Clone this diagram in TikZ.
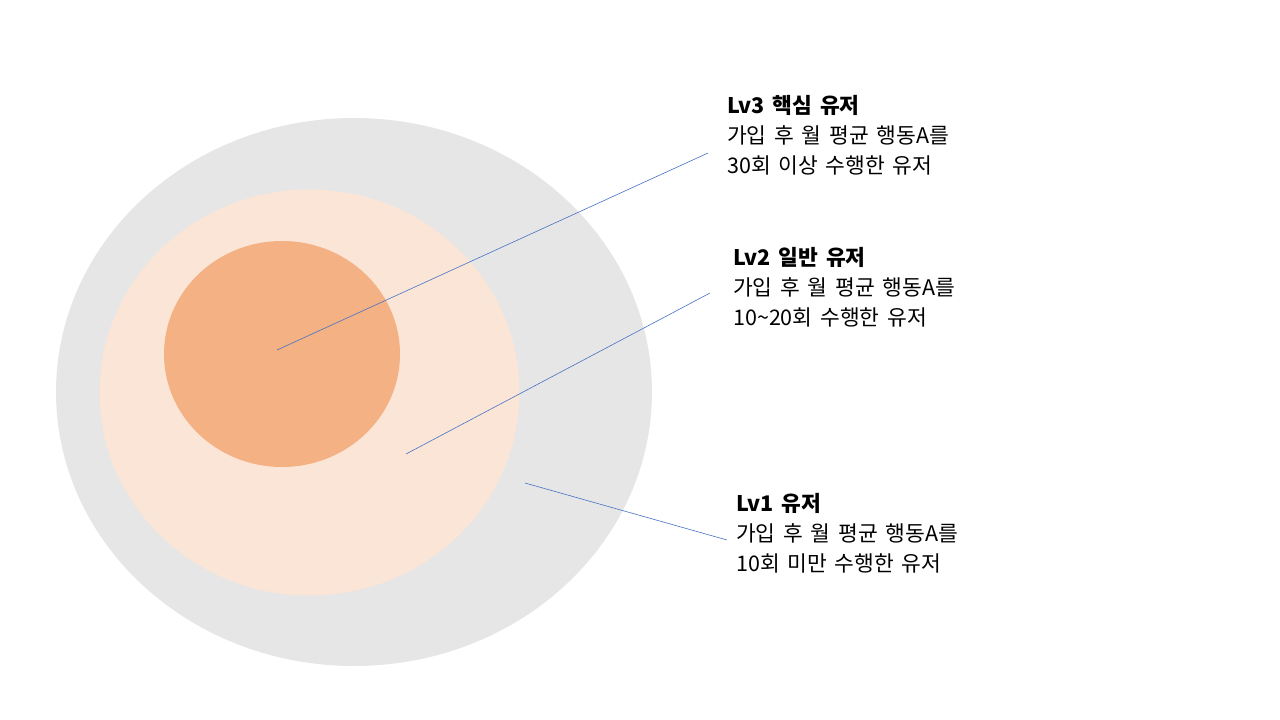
\documentclass[tikz,border=0pt]{standalone}
\usepackage{fontspec}
\setmainfont{Noto Sans CJK KR}[WordSpace=1.6]
\begin{document}
\begin{tikzpicture}[x=1pt,y=-1pt,
  lbl/.style={anchor=north west,align=left,inner sep=0pt,font=\fontsize{21.5}{30}\selectfont},
  ln/.style={draw={rgb,255:red,68;green,114;blue,196},line width=0.6pt}]
\useasboundingbox (0,0) rectangle (1280,720);
\fill[fill={rgb,255:red,231;green,230;blue,230}] (354,392) ellipse [x radius=298,y radius=274];
\fill[fill={rgb,255:red,251;green,229;blue,214}] (309.5,392.5) ellipse [x radius=210,y radius=203];
\fill[fill={rgb,255:red,244;green,177;blue,131}] (282,354) ellipse [x radius=118,y radius=113];
\coordinate (a1) at (277,350); \coordinate (a2) at (708,153);
\coordinate (b1) at (406,454); \coordinate (b2) at (710,293);
\coordinate (c1) at (525,483); \coordinate (c2) at (727,540);
\draw[ln] (a1)--(a2); \draw[ln] (b1)--(b2); \draw[ln] (c1)--(c2);
\node[lbl] (t3) at (727,95) {\textbf{Lv3 핵심 유저}\\가입 후 월 평균 행동A를\\30회 이상 수행한 유저};
\node[lbl] (t2) at (733,247) {\textbf{Lv2 일반 유저}\\가입 후 월 평균 행동A를\\10\textasciitilde20회 수행한 유저};
\node[lbl] (t1) at (736,493) {\textbf{Lv1 유저}\\가입 후 월 평균 행동A를\\10회 미만 수행한 유저};
\end{tikzpicture}
\end{document}
